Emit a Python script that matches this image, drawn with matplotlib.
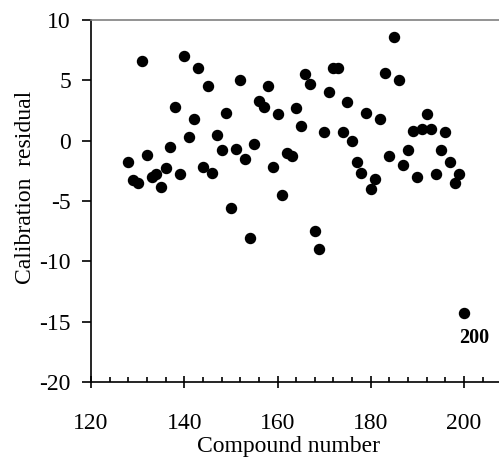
import matplotlib.pyplot as plt
from matplotlib.ticker import MultipleLocator

plt.rcParams['font.family'] = ['Liberation Serif', 'DejaVu Serif']
plt.rcParams['axes.unicode_minus'] = False

compound = list(range(128, 201))
residual = [-1.8, -3.3, -3.5, 6.6, -1.2, -3.0, -2.8, -3.8, -2.3, -0.5,
            2.8, -2.8, 7.0, 0.3, 1.8, 6.0, -2.2, 4.5, -2.7, 0.5,
            -0.8, 2.3, -5.6, -0.7, 5.0, -1.5, -8.1, -0.3, 3.3, 2.8,
            4.5, -2.2, 2.2, -4.5, -1.0, -1.3, 2.7, 1.2, 5.5, 4.7,
            -7.5, -9.0, 0.7, 4.0, 6.0, 6.0, 0.7, 3.2, 0.0, -1.8,
            -2.7, 2.3, -4.0, -3.2, 1.8, 5.6, -1.3, 8.6, 5.0, -2.0,
            -0.8, 0.8, -3.0, 1.0, 2.2, 1.0, -2.8, -0.8, 0.7, -1.8,
            -3.5, -2.8, -14.3]
outlier = (200, -14.3)

fig = plt.figure(figsize=(4.99, 4.63), dpi=100)
ax = fig.add_axes([0.1824, 0.175, 0.8176, 0.7818])

ax.scatter(compound, residual, s=52, color='black', zorder=3, clip_on=False)
ax.annotate('200', outlier, xytext=(7, -18), textcoords='offset points',
            ha='center', va='center', fontsize=14.5, fontweight='bold')

ax.set_xlim(120, 207.5)
ax.set_ylim(-20, 10)
ax.xaxis.set_major_locator(MultipleLocator(20))
ax.xaxis.set_minor_locator(MultipleLocator(4))
ax.yaxis.set_major_locator(MultipleLocator(5))

ax.spines['right'].set_visible(False)
ax.spines['top'].set_color('#808080')
for s in ['left', 'bottom', 'top']:
    ax.spines[s].set_linewidth(1.2)

ax.tick_params(axis='x', which='major', direction='inout', length=9,
               width=1.2, labelsize=17, pad=18)
ax.tick_params(axis='x', which='minor', direction='in', length=3.5, width=1.2)
ax.tick_params(axis='y', which='major', direction='out', length=6.5,
               width=1.2, labelsize=17, pad=8)

ax.set_xlabel('Compound number', fontsize=17, labelpad=1)
ax.xaxis.label.set_x(0.483)
ax.set_ylabel('Calibration  residual', fontsize=17)
ax.yaxis.set_label_coords(-0.135, 0.537)

fig.savefig('out.png', dpi=100)
